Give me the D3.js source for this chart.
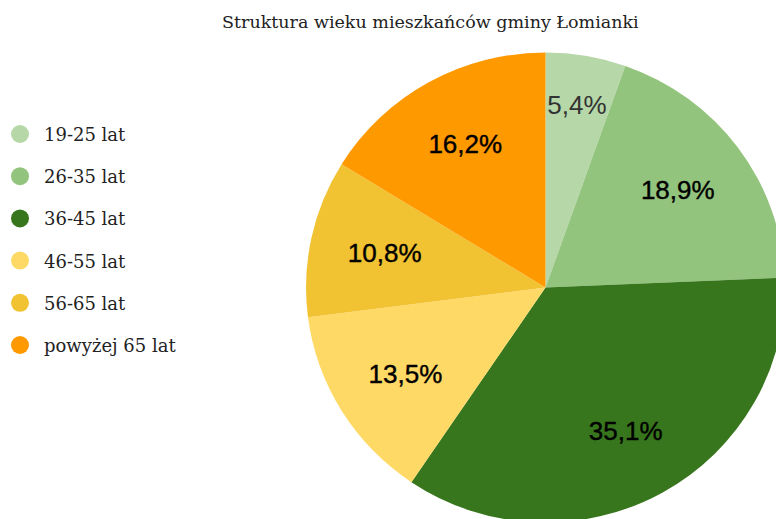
<!DOCTYPE html>
<html>
<head>
<meta charset="utf-8">
<script src="https://cdn.jsdelivr.net/npm/d3@7"></script>
<style>
  body { margin: 0; background: #fff; }
</style>
</head>
<body>
<svg width="776" height="519"></svg>
<script>
"use strict";
// dane
var categories = ['19-25 lat', '26-35 lat', '36-45 lat', '46-55 lat', '56-65 lat', 'powyżej 65 lat'];
var values = [5.4, 18.9, 35.1, 13.5, 10.8, 16.2];
var colors = ['#b6d7a8', '#93c47d', '#38761d', '#ffd966', '#f1c232', '#ff9900'];
var title = 'Struktura wieku mieszkańców gminy Łomianki';

var svg = d3.select('svg');
var width = Number(svg.attr('width'));
var height = Number(svg.attr('height'));

var data = categories.map(function (c, i) { return { name: c, value: values[i] }; });
var color = d3.scaleOrdinal().domain(categories).range(colors);

// tytuł
svg.append('text')
    .attr('x', 222)
    .attr('y', 28)
    .attr('font-family', 'DejaVu Serif')
    .attr('font-size', 17.5)
    .attr('fill', '#222')
    .text(title);

// koło (obraz lekko rozciągnięty w poziomie)
var radius = 235;
var pieG = svg.append('g')
    .attr('transform', 'translate(545.5,287.5)');
var pie = d3.pie().sort(null).value(function (d) { return d.value; });
var arc = d3.arc().innerRadius(0).outerRadius(radius);
var labelArc = d3.arc().innerRadius(radius * 0.7).outerRadius(radius * 0.7);
// mały wycinek - etykieta dalej od środka
var smallArc = d3.arc().innerRadius(radius * 0.79).outerRadius(radius * 0.79);
var arcs = pie(data);

pieG.append('g')
    .attr('transform', 'scale(1.019,1)')
    .selectAll('path')
    .data(arcs)
    .enter().append('path')
    .attr('d', arc)
    .attr('fill', function (d) { return color(d.data.name); });

var fmt = function (v) { return v.toFixed(1).replace('.', ',') + '%'; };
pieG.selectAll('text')
    .data(arcs)
    .enter().append('text')
    .attr('transform', function (d, i) {
        var c = (i === 0 ? smallArc : labelArc).centroid(d);
        return 'translate(' + c[0] + ',' + (c[1] + 9) + ')';
    })
    .attr('text-anchor', 'middle')
    .attr('font-family', 'Liberation Sans, Arial')
    .attr('font-size', 26)
    .attr('fill', function (d, i) { return i === 0 ? '#333' : '#000'; })
    .attr('stroke', function (d, i) { return i === 0 ? 'none' : '#000'; })
    .attr('stroke-width', 0.4)
    .text(function (d) { return fmt(d.data.value); });

// legenda
var legend = svg.append('g').attr('transform', 'translate(20,134)');
var item = legend.selectAll('g')
    .data(categories)
    .enter().append('g')
    .attr('transform', function (d, i) { return 'translate(0,' + i * 42.2 + ')'; });
item.append('circle')
    .attr('r', 9)
    .attr('fill', function (d) { return color(d); });
item.append('text')
    .attr('x', 24)
    .attr('y', 7)
    .attr('font-family', 'DejaVu Serif')
    .attr('font-size', 18)
    .attr('fill', '#222')
    .text(function (d) { return d; });
</script>
</body>
</html>
